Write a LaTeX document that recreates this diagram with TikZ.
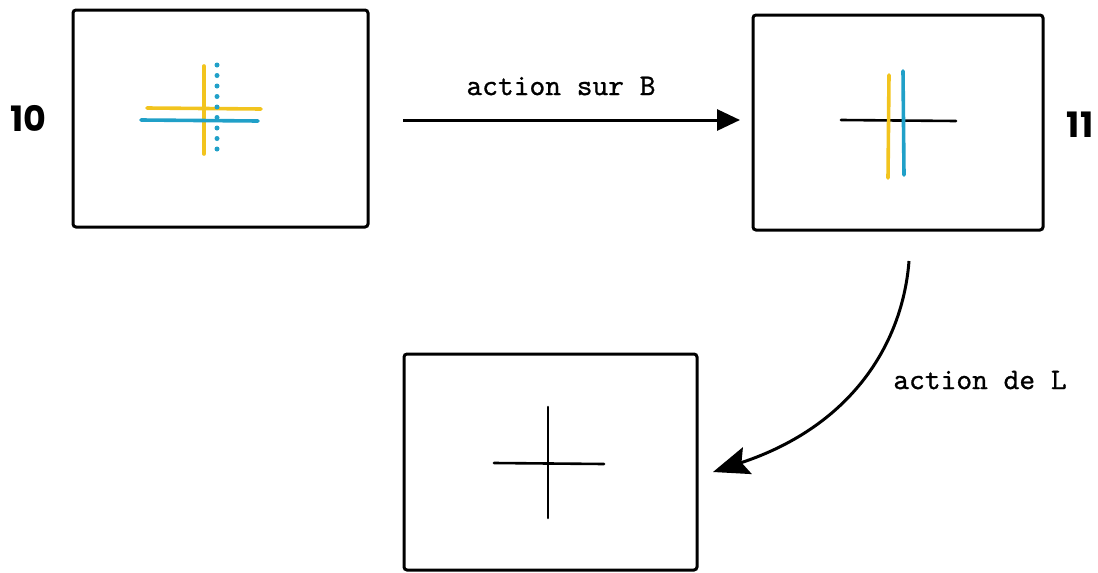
\documentclass[tikz,border=0pt]{standalone}
\usepackage{fontspec}
\newfontfamily\labfont{lmmono10-regular.otf}[FakeBold=0.8]
\newfontfamily\numfont{Poppins}
\usetikzlibrary{arrows.meta}
\definecolor{cyel}{RGB}{242,196,30}
\definecolor{cblu}{RGB}{32,160,200}
\begin{document}
\begin{tikzpicture}[x=1pt,y=-1pt,
  screen/.style={draw=black,line width=3pt,rounded corners=3pt,inner sep=0pt,minimum width=#1},
  hair/.style={line width=2.6pt,line cap=round},
  yel/.style={draw=cyel,line width=3.6pt,line cap=round},
  blu/.style={draw=cblu,line width=3.6pt,line cap=round},
  lab/.style={font=\labfont\fontsize{30}{33}\selectfont,inner sep=0pt},
  num/.style={font=\numfont\bfseries\fontsize{35}{38}\selectfont,inner sep=0pt},
  conn/.style={line width=3pt}]
\useasboundingbox (0,0) rectangle (1098,573);
% screens
\node[screen=295pt,minimum height=217pt] (s1) at (220.5,118.5) {};
\node[screen=290pt,minimum height=215pt] (s2) at (898,122.5) {};
\node[screen=293pt,minimum height=216pt] (s3) at (550.5,462) {};
% numbers
\node[num] (n10) at (28,118) {10};
\node[num] (n11) at (1080,125) {11};
% screen 1 crosses
\draw[yel] (204,66) -- (204,154);
\draw[yel] (147,108) -- (261,109);
\draw[blu] (141,120) -- (258,121);
\draw[draw=cblu,line width=5pt,line cap=round,dash pattern=on 0pt off 10.5pt] (217,65) -- (217,149);
% screen 2
\draw[hair] (841,120) -- (956,121);
\draw[yel] (889,75) -- (888,178);
\draw[blu] (903,71) -- (904,175);
% screen 3
\draw[hair] (494,463) -- (604,464);
\draw[hair] (548,407) -- (548,518);
% arrows
\coordinate (a1) at (403,120);
\coordinate (a2) at (740,120);
\draw[conn,-{Triangle[length=23pt,width=21pt]}] (a1) -- (a2);
\node[lab] (tb) at (561,86) {action sur B};
\coordinate (c1) at (909,261);
\coordinate (c2) at (713,472);
\draw[conn,-{Stealth[length=36pt,width=28pt,inset=6pt]}] (c1) .. controls (903,340) and (855,425) .. (c2);
\node[lab] (tl) at (980,380) {action de L};
\end{tikzpicture}
\end{document}
